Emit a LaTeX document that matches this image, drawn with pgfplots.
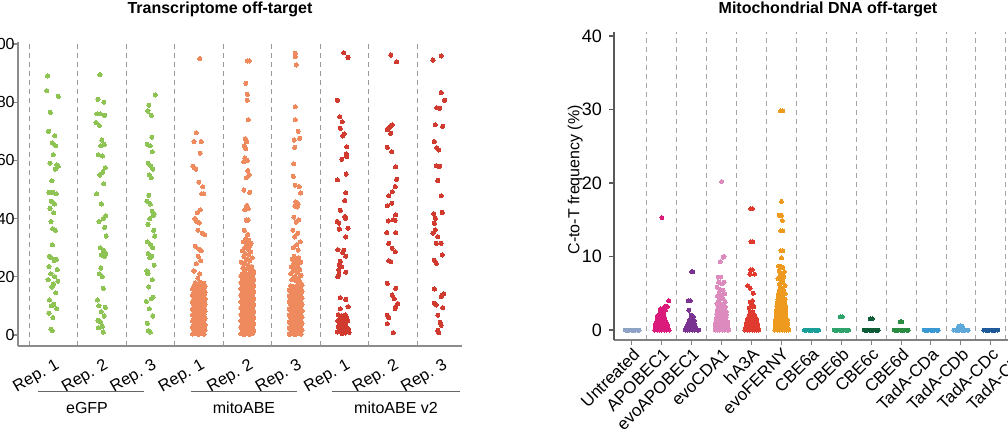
\documentclass[border=0pt]{standalone}
\usepackage{fontspec}
\setmainfont{Liberation Sans}
\usepackage{pgfplots}
\pgfplotsset{compat=1.18}
\definecolor{cgfp}{HTML}{8DC453}
\definecolor{cabe}{HTML}{EE8A5E}
\definecolor{cabeb}{HTML}{D13A2E}
\definecolor{cunt}{HTML}{8FA3C6}
\definecolor{capo}{HTML}{DA1B7B}
\definecolor{cevoapo}{HTML}{7A3391}
\definecolor{ccda}{HTML}{DD8BBF}
\definecolor{cha}{HTML}{E03A2E}
\definecolor{cfer}{HTML}{EE9A1E}
\definecolor{cbea}{HTML}{1A9E98}
\definecolor{cbeb}{HTML}{2FA36C}
\definecolor{cbec}{HTML}{0E5C38}
\definecolor{cbed}{HTML}{2A8C42}
\definecolor{ctda}{HTML}{3A98D2}
\definecolor{ctdb}{HTML}{5EA9DA}
\definecolor{ctdc}{HTML}{1E5A9A}
\definecolor{ctdd}{HTML}{0E3A78}
\begin{document}
\begin{tikzpicture}
\pgfplotsset{
  dots/.style={only marks, mark=*, mark size=1.05pt, color=#1, mark options={solid, draw=#1, fill=#1, line width=0pt}},
  rdots/.style={only marks, mark=*, mark size=1pt, color=#1, mark options={solid, draw=#1, fill=#1, line width=0pt}},
}
% ---------------- left panel ----------------
\begin{axis}[
  at={(9pt,41.5pt)}, anchor=south west, scale only axis,
  width=222pt, height=152pt,
  xmin=0.27, xmax=9.43, ymin=-3.8, ymax=100.7,
  axis x line*=bottom, axis y line*=left,
  axis line style={draw=black!45, line width=0.7pt},
  xtick={1,...,9},
  xticklabels={Rep. 1,Rep. 2,Rep. 3,Rep. 1,Rep. 2,Rep. 3,Rep. 1,Rep. 2,Rep. 3},
  x tick label style={rotate=30, anchor=north east, font=\fontsize{8.2}{9}\selectfont, inner sep=1pt, yshift=-2pt},
  x tick style={draw=none},
  ytick={0,20,40,60,80,100},
  yticklabel style={font=\fontsize{8}{9}\selectfont, anchor=east, inner sep=0pt, xshift=1pt},
  y tick style={draw=black!45, line width=0.6pt},
  tick align=outside, major tick length=2.5pt,
  /pgf/number format/assume math mode=true,
  minor xtick={0.5,1.5,...,8.5}, xminorgrids=true, minor tick length=0pt,
  minor grid style={draw=black!40, dash pattern=on 2.5pt off 2pt, line width=0.4pt},
]
% eGFP Rep. 1
\addplot[dots=cgfp] coordinates {(0.88,89) (0.86,84) (1.10,82) (0.94,76.5) (0.90,70) (1.03,68.5) (0.98,66) (1.05,65) (1.00,62) (0.93,59) (1.07,58.5) (1.10,58) (1.04,57) (0.97,53) (0.91,49) (0.99,49) (1.06,48.5) (0.96,46) (1.02,45) (0.93,43.5) (1.01,42) (0.95,39) (0.99,36.5) (1.04,36) (0.98,31) (0.92,27) (0.96,26.5) (1.06,26) (1.02,25.5) (0.91,23.5) (1.08,22.5) (0.95,21) (1.03,20) (0.89,19) (1.09,18.5) (1.00,17.5) (0.97,16.5) (1.05,14.5) (0.92,12) (1.01,10.5) (0.96,10) (1.07,9) (0.91,7.5) (0.99,6) (0.95,2) (0.98,1.5)};
% eGFP Rep. 2
\addplot[dots=cgfp] coordinates {(1.96,89.5) (1.92,81) (2.04,80) (1.90,76) (1.97,76) (2.06,75.5) (1.88,73) (1.95,72) (2.00,67) (2.05,65.5) (1.98,65) (1.93,62) (2.01,61.5) (2.07,57.5) (2.02,56) (1.96,55) (2.04,52) (1.89,48.5) (1.99,45) (2.08,41) (2.03,40) (1.94,39) (2.06,37) (2.09,34) (1.97,30) (2.04,29) (2.08,28) (1.99,27.5) (2.06,27) (1.95,21) (2.01,20) (1.98,23) (2.03,16) (1.91,12) (1.94,10) (2.07,9.5) (1.99,8) (2.05,6.5) (1.92,5) (1.97,4.5) (2.01,3) (1.93,2.5) (2.03,1)};
% eGFP Rep. 3
\addplot[dots=cgfp] coordinates {(3.10,82.5) (2.97,79) (2.95,77) (3.02,75.5) (3.03,68) (2.94,65.5) (3.00,65) (3.04,63) (2.96,59) (3.01,58) (3.05,57) (2.98,55) (3.02,54) (2.97,48) (2.93,46) (3.00,45) (3.04,42.5) (3.08,41.5) (3.06,41) (2.99,40) (2.95,38) (3.07,36) (2.94,32) (3.01,31) (3.05,30) (2.96,28) (3.03,27) (2.99,26.5) (3.08,24) (2.95,21) (3.04,19) (2.97,16.5) (3.06,13) (3.02,12.5) (2.92,11.5) (2.98,9) (3.05,6.5) (2.94,4) (2.96,1.5) (3.00,1) (2.93,22) (3.09,34)};
% mitoABE Rep. 1
\addplot[dots=cabe] coordinates {(4.02,95) (3.95,69.5) (3.90,66.5) (4.05,66.5) (4.03,62.5) (3.88,58) (3.91,57.5) (3.94,57) (4.00,52.5) (4.08,51) (4.06,48.5) (4.10,48.5) (4.03,43) (3.97,42) (3.92,40) (3.96,39) (4.01,38.5) (3.98,36) (4.07,35) (4.12,34.5) (3.93,30.5) (4.00,29.5) (4.05,29) (3.99,27) (4.04,25.5) (3.95,24.5) (3.90,22) (4.02,21) (3.98,19.5)
(3.87,0.3) (3.93,0.6) (3.99,0.2) (4.05,0.5) (4.11,0.3)
(3.90,1.5) (3.96,1.2) (4.02,1.6) (4.08,1.3) (4.13,1.7)
(3.87,2.6) (3.93,2.3) (3.99,2.7) (4.05,2.4) (4.11,2.8)
(3.90,3.5) (3.96,3.9) (4.02,3.4) (4.08,3.8) (4.13,3.5)
(3.87,4.8) (3.93,4.5) (3.99,4.9) (4.05,4.6) (4.11,5.0)
(3.90,5.7) (3.96,6.1) (4.02,5.6) (4.08,6.0) (4.13,5.8)
(3.87,7.0) (3.93,6.7) (3.99,7.2) (4.05,6.8) (4.11,7.1)
(3.90,8.1) (3.96,7.8) (4.02,8.3) (4.08,7.9) (4.13,8.2)
(3.87,9.0) (3.93,9.4) (3.99,8.9) (4.05,9.3) (4.11,9.0)
(3.90,10.3) (3.96,10.0) (4.02,10.4) (4.08,10.1) (4.13,10.5)
(3.87,11.4) (3.93,11.1) (3.99,11.5) (4.05,11.2) (4.11,11.6)
(3.90,12.3) (3.96,12.7) (4.02,12.2) (4.08,12.6) (4.13,12.4)
(3.87,13.6) (3.93,13.3) (3.99,13.7) (4.05,13.4) (4.11,13.8)
(3.90,14.5) (3.96,14.9) (4.02,14.4) (4.08,14.8) (4.13,14.6)
(3.87,15.8) (3.93,15.5) (3.99,15.9) (4.05,15.6) (4.11,16.0)
(3.90,16.7) (3.96,17.1) (4.02,16.6) (4.08,17.0) (4.13,16.8)
(3.93,17.9) (4.02,18.2) (4.10,17.8)};
% mitoABE Rep. 2
\addplot[dots=cabe] coordinates {(5.00,94.2) (5.04,94.2) (4.97,86.5) (5.00,82.7) (5.00,80.7) (5.02,74) (4.96,67.5) (4.99,66.5) (4.94,65) (4.97,64) (4.95,60.8) (5.00,60) (4.93,59.5) (5.01,56.5) (5.04,55) (4.98,54) (4.93,49.8) (5.05,49) (4.99,44.5) (5.02,43.5) (4.95,43) (4.98,39.5) (5.02,39.5) (4.94,36) (5.01,34.5)
(4.97,33) (5.03,32.5) (4.92,32) (5.08,31.5) (4.99,31) (5.05,30.5) (4.95,30) (5.01,29.5) (4.90,29) (5.07,28.5) (4.96,28) (5.03,27.5) (4.93,27) (5.10,26.5) (4.99,26) (5.05,25.5) (4.88,25) (4.95,24.5) (5.02,24) (5.09,23.5) (4.91,23) (4.98,22.8) (5.06,22.4) (5.12,22)
(4.87,0.4) (4.93,0.1) (4.99,0.5) (5.05,0.2) (5.11,0.6)
(4.90,1.3) (4.96,1.7) (5.02,1.2) (5.08,1.6) (5.13,1.4)
(4.87,2.6) (4.93,2.3) (4.99,2.7) (5.05,2.4) (5.11,2.8)
(4.90,3.5) (4.96,3.9) (5.02,3.4) (5.08,3.8) (5.13,3.6)
(4.87,4.8) (4.93,4.5) (4.99,4.9) (5.05,4.6) (5.11,5.0)
(4.90,5.7) (4.96,6.1) (5.02,5.6) (5.08,6.0) (5.13,5.8)
(4.87,7.0) (4.93,6.7) (4.99,7.1) (5.05,6.8) (5.11,7.2)
(4.90,7.9) (4.96,8.3) (5.02,7.8) (5.08,8.2) (5.13,8.0)
(4.87,9.2) (4.93,8.9) (4.99,9.3) (5.05,9.0) (5.11,9.4)
(4.90,10.1) (4.96,10.5) (5.02,10.0) (5.08,10.4) (5.13,10.2)
(4.87,11.4) (4.93,11.1) (4.99,11.5) (5.05,11.2) (5.11,11.6)
(4.90,12.3) (4.96,12.7) (5.02,12.2) (5.08,12.6) (5.13,12.4)
(4.87,13.6) (4.93,13.3) (4.99,13.7) (5.05,13.4) (5.11,13.8)
(4.90,14.5) (4.96,14.9) (5.02,14.4) (5.08,14.8) (5.13,14.6)
(4.87,15.8) (4.93,15.5) (4.99,15.9) (5.05,15.6) (5.11,16.0)
(4.90,16.7) (4.96,17.1) (5.02,16.6) (5.08,17.0) (5.13,16.8)
(4.87,18.0) (4.93,17.7) (4.99,18.1) (5.05,17.8) (5.11,18.2)
(4.90,18.9) (4.96,19.3) (5.02,18.8) (5.08,19.2) (5.13,19.0)
(4.87,20.2) (4.93,19.9) (4.99,20.3) (5.05,20.0) (5.11,20.4)
(4.90,21.1) (4.96,21.5) (5.02,21.0) (5.08,21.4) (5.13,21.2)};
% mitoABE Rep. 3
\addplot[dots=cabe] coordinates {(5.99,96.8) (5.99,95.6) (6.01,92.8) (5.99,78.5) (5.99,74) (6.05,70) (6.08,67.6) (5.97,67) (5.98,64.5) (5.96,58.8) (5.95,54.5) (5.99,51.5) (6.07,51) (6.10,48.8) (6.00,45.7) (6.05,45) (5.98,44.3) (6.03,44) (5.96,40.5) (6.06,39.5) (6.01,38.8) (5.94,36) (6.04,35) (5.98,33.7) (6.09,32) (6.02,31) (5.95,30) (6.05,29.2)
(5.97,27) (6.06,26.5) (5.93,26) (6.02,25.5) (6.10,25) (5.96,24.5) (6.04,24) (5.91,23.5) (6.00,23) (6.08,22.5) (5.95,22) (6.03,21.5) (5.90,21) (6.11,20.5) (5.98,20) (6.05,19.5) (5.92,19) (6.01,18.6) (6.09,18.2)
(5.87,0.2) (5.93,0.5) (5.99,0.1) (6.05,0.6) (6.11,0.3)
(5.90,1.6) (5.96,1.2) (6.02,1.5) (6.08,1.1) (6.13,1.7)
(5.87,2.4) (5.93,2.8) (5.99,2.5) (6.05,2.9) (6.11,2.3)
(5.90,3.7) (5.96,3.4) (6.02,3.8) (6.08,3.5) (6.13,3.9)
(5.87,4.6) (5.93,5.0) (5.99,4.6) (6.05,4.9) (6.11,4.5)
(5.90,5.9) (5.96,5.6) (6.02,6.0) (6.08,5.7) (6.13,6.1)
(5.87,6.8) (5.93,7.2) (5.99,6.8) (6.05,7.1) (6.11,6.7)
(5.90,8.1) (5.96,7.8) (6.02,8.2) (6.08,7.9) (6.13,8.3)
(5.87,9.0) (5.93,9.4) (5.99,9.0) (6.05,9.3) (6.11,8.9)
(5.90,10.3) (5.96,10.0) (6.02,10.4) (6.08,10.1) (6.13,10.5)
(5.87,11.2) (5.93,11.6) (5.99,11.2) (6.05,11.5) (6.11,11.1)
(5.90,12.5) (5.96,12.2) (6.02,12.6) (6.08,12.3) (6.13,12.7)
(5.87,13.4) (5.93,13.8) (5.99,13.4) (6.05,13.7) (6.11,13.3)
(5.90,14.7) (5.96,14.4) (6.02,14.8) (6.08,14.5) (6.13,14.9)
(5.87,15.6) (5.93,16.0) (5.99,15.6) (6.05,15.9) (6.11,15.5)
(5.90,16.9) (5.96,16.6) (6.02,17.0) (6.08,16.7) (6.13,17.1)};
% mitoABE v2 Rep. 1
\addplot[dots=cabeb] coordinates {(6.99,97) (7.08,95.4) (6.86,80.7) (6.91,75) (6.96,73.3) (6.92,71) (7.00,69.1) (6.97,68.4) (7.05,64.7) (7.04,62.2) (7.05,61.3) (6.95,60.4) (7.04,55.3) (6.86,53.3) (7.03,48.9) (7.01,46.2) (6.92,42.8) (7.01,40.7) (7.03,40.1) (6.86,39) (6.89,38.4) (7.08,36.7) (6.90,36.4) (7.03,33.7) (6.87,29.3) (6.99,29.1) (6.97,28.4) (7.03,27.1) (6.92,25.3) (6.90,24.2) (6.95,23.4) (6.89,22.5) (7.03,21.6) (6.89,20.8) (6.87,20) (6.92,12.8) (7.03,12.2) (7.08,9.7) (6.92,9)
(6.88,7.0) (6.95,6.6) (7.02,6.9) (6.91,5.8) (6.98,5.5) (7.05,5.9) (6.87,4.9) (6.94,4.6) (7.00,4.2) (7.07,4.8) (6.90,3.7) (6.97,3.3) (7.03,3.6) (6.88,2.6) (6.95,2.2) (7.01,2.5) (7.08,2.1) (6.92,1.4) (6.99,1.1) (7.05,1.5) (6.86,1.0) (7.02,0.7) (7.10,0.9) (6.96,0.5)};
% mitoABE v2 Rep. 2
\addplot[dots=cabeb] coordinates {(7.96,96.2) (8.08,93.9) (7.89,70.5) (7.94,71.5) (7.99,72.2) (7.96,69.3) (7.91,70.8) (7.89,64.5) (7.98,63) (8.06,57.8) (8.08,53.5) (8.05,51) (7.99,49.2) (7.92,47.8) (7.98,45.3) (7.89,44.4) (8.06,41.3) (7.91,39.2) (8.05,39.4) (8.01,39.6) (7.88,35.2) (8.06,35.2) (7.92,31.5) (7.99,29.8) (8.05,28.6) (7.96,25.2) (7.92,25.5) (7.89,17.7) (8.06,16) (7.99,13.7) (8.03,12.5) (8.10,10.8) (8.06,9.7) (8.05,9.1) (7.89,6.8) (7.92,6) (7.89,3.8) (8.01,0.8)};
% mitoABE v2 Rep. 3
\addplot[dots=cabeb] coordinates {(9.00,95.9) (8.83,94.5) (9.00,83.3) (9.07,80.7) (8.91,78.1) (8.97,77.9) (8.88,72.3) (9.03,71.7) (8.86,66.5) (8.91,64.3) (8.95,63.6) (8.90,58.2) (8.95,57.8) (8.97,58.0) (8.93,53.1) (9.00,47.8) (9.02,42.1) (8.85,41.6) (8.88,40.1) (8.86,38.4) (8.88,36.1) (8.83,35) (8.93,33.8) (8.90,31.5) (9.00,31.5) (9.02,27.5) (8.86,25.7) (8.90,24.6) (8.86,15.8) (9.05,14.1) (9.02,13.7) (9.00,13.2) (8.86,10.9) (8.90,10.3) (9.03,9.4) (8.93,6.8) (8.98,4.3) (9.00,3.3) (8.93,1.6) (8.95,0.8)};
\end{axis}
% group lines and labels
\draw[black!60, line width=0.5pt] (19pt,18.5pt) -- (72pt,18.5pt);
\draw[black!60, line width=0.5pt] (95.5pt,18.5pt) -- (148.5pt,18.5pt);
\draw[black!60, line width=0.5pt] (166pt,18.5pt) -- (230pt,18.5pt);
\node[font=\fontsize{8}{9}\selectfont] at (43.5pt,10.5pt) {eGFP};
\node[font=\fontsize{8}{9}\selectfont] at (122pt,10.5pt) {mitoABE};
\node[font=\fontsize{8}{9}\selectfont] at (198pt,10.5pt) {mitoABE v2};
\node[font=\fontsize{8}{9}\selectfont\bfseries] at (110pt,210pt) {Transcriptome off-target};
\node[font=\fontsize{8}{9}\selectfont\bfseries] at (414pt,210pt) {Mitochondrial DNA off-target};
% ---------------- right panel ----------------
\begin{axis}[
  at={(307pt,44.5pt)}, anchor=south west, scale only axis,
  width=210.8pt, height=154pt,
  xmin=0.4, xmax=14.5, ymin=-1.36, ymax=40.54,
  axis x line*=bottom, axis y line*=left,
  x axis line style={draw=black!50, line width=0.7pt},
  y axis line style={draw=black!65, line width=0.7pt},
  xtick={1,...,14},
  xticklabels={Untreated,APOBEC1,evoAPOBEC1,evoCDA1,hA3A,evoFERNY,CBE6a,CBE6b,CBE6c,CBE6d,TadA-CDa,TadA-CDb,TadA-CDc,TadA-CDd},
  x tick label style={rotate=45, anchor=north east, font=\fontsize{8.5}{9}\selectfont, inner sep=0.5pt},
  x tick style={draw=black!50, line width=0.5pt},
  ytick={0,10,20,30,40},
  y tick label style={font=\fontsize{9}{10}\selectfont},
  y tick style={draw=black!65, line width=0.6pt},
  tick align=outside, major tick length=2.5pt,
  /pgf/number format/assume math mode=true,
  ylabel={C-to-T frequency (\%)},
  ylabel style={font=\fontsize{8}{9}\selectfont, at={(axis description cs:-0.092,0.52)}, anchor=center},
  minor xtick={1.5,2.5,...,14.5}, xminorgrids=true, minor tick length=0pt,
  minor grid style={draw=black!35, dash pattern=on 2.5pt off 2pt, line width=0.4pt},
]
% Untreated
\addplot[rdots=cunt] coordinates {(0.77,0) (0.81,0) (0.85,0) (0.89,0) (0.93,0) (0.97,0) (1.01,0) (1.05,0) (1.09,0) (1.13,0) (1.17,0) (1.21,0) (1.24,0)};
% APOBEC1
\addplot[rdots=capo] coordinates {(2.00,15.3) (2.23,4.0) (2.10,3.2) (2.18,3.2) (1.96,2.9) (2.12,2.7)
(1.76,0) (1.84,0) (1.92,0) (2.00,0) (2.08,0) (2.16,0) (2.24,0)
(1.80,0.35) (1.88,0.35) (1.96,0.35) (2.04,0.35) (2.12,0.35) (2.20,0.35)
(1.78,0.7) (1.86,0.7) (1.94,0.7) (2.02,0.7) (2.10,0.7) (2.18,0.7)
(1.82,1.05) (1.90,1.05) (1.98,1.05) (2.06,1.05) (2.14,1.05)
(1.86,1.4) (1.94,1.4) (2.02,1.4) (2.10,1.4)
(1.84,1.75) (1.93,1.75) (2.00,1.75) (2.08,1.75)
(1.90,2.1) (1.98,2.1) (2.06,2.1)
(1.94,2.5) (2.02,2.5)};
% evoAPOBEC1
\addplot[rdots=cevoapo] coordinates {(3.00,7.9) (3.03,7.9) (2.88,4.0) (2.95,4.0) (2.90,2.7) (2.98,2.0) (3.05,1.8)
(2.78,0) (2.86,0) (2.94,0) (3.02,0) (3.10,0) (3.18,0) (3.23,0)
(2.82,0.35) (2.90,0.35) (2.98,0.35) (3.06,0.35) (3.14,0.35)
(2.86,0.7) (2.94,0.7) (3.02,0.7) (3.10,0.7)
(2.90,1.05) (2.98,1.05) (3.06,1.05)
(2.93,1.4) (3.01,1.4) (3.09,1.3)};
% evoCDA1
\addplot[rdots=ccda] coordinates {(4.00,20.2) (4.08,10.0) (4.05,9.9) (3.95,9.3) (3.88,7.2) (3.97,7.2) (3.90,6.5) (4.02,6.3) (4.08,6.5) (3.85,5.8) (3.95,5.5) (4.05,5.4) (3.92,5.0) (4.10,4.9) (3.86,4.6) (4.00,4.6) (3.96,4.3) (4.06,4.2) (3.90,4.0) (4.12,3.8) (3.84,3.6) (3.98,3.5) (4.04,3.3)
(3.78,0) (3.86,0) (3.94,0) (4.02,0) (4.10,0) (4.18,0) (4.24,0)
(3.80,0.35) (3.88,0.35) (3.96,0.35) (4.04,0.35) (4.12,0.35) (4.20,0.35)
(3.79,0.7) (3.87,0.7) (3.95,0.7) (4.03,0.7) (4.11,0.7) (4.19,0.7)
(3.81,1.05) (3.89,1.05) (3.97,1.05) (4.05,1.05) (4.13,1.05) (4.20,1.05)
(3.82,1.4) (3.90,1.4) (3.98,1.4) (4.06,1.4) (4.14,1.4)
(3.83,1.75) (3.91,1.75) (3.99,1.75) (4.07,1.75) (4.15,1.75)
(3.84,2.1) (3.92,2.1) (4.00,2.1) (4.08,2.1) (4.16,2.1)
(3.85,2.45) (3.93,2.45) (4.01,2.45) (4.09,2.45) (4.15,2.45)
(3.86,2.8) (3.94,2.8) (4.02,2.8) (4.10,2.8)
(3.88,3.15) (3.96,3.15) (4.04,3.1) (4.12,3.15)};
% hA3A
\addplot[rdots=cha] coordinates {(4.97,16.5) (5.03,16.5) (4.98,12.0) (5.04,12.0) (4.97,8.2) (5.03,8.2) (4.94,7.6) (5.10,7.6) (4.87,6.0) (4.95,5.7) (5.06,5.0) (5.03,4.0) (4.95,3.8) (5.00,3.5) (5.08,3.2) (4.92,3.0)
(4.78,0) (4.86,0) (4.94,0) (5.02,0) (5.10,0) (5.18,0) (5.24,0)
(4.80,0.35) (4.88,0.35) (4.96,0.35) (5.04,0.35) (5.12,0.35) (5.20,0.35)
(4.82,0.7) (4.90,0.7) (4.98,0.7) (5.06,0.7) (5.14,0.7) (5.21,0.7)
(4.84,1.05) (4.92,1.05) (5.00,1.05) (5.08,1.05) (5.16,1.05)
(4.86,1.4) (4.94,1.4) (5.02,1.4) (5.10,1.4) (5.17,1.4)
(4.90,1.75) (4.98,1.75) (5.06,1.75) (5.13,1.75)
(4.93,2.1) (5.01,2.1) (5.09,2.1)
(4.96,2.45) (5.04,2.45)};
% evoFERNY
\addplot[rdots=cfer] coordinates {(5.97,29.8) (6.04,29.8) (6.00,17.5) (5.93,15.6) (6.00,15.6) (6.03,14.9) (5.98,13.5) (6.04,13.5) (5.98,10.8) (6.05,10.8) (6.00,9.8) (5.90,8.7) (5.95,8.7) (6.05,8.5) (5.93,8.0) (6.10,7.9) (6.03,7.7) (5.95,7.3) (6.08,7.2) (5.88,7.0) (5.98,6.8) (6.05,6.5) (5.92,6.2) (6.12,6.0) (5.97,5.8) (6.05,5.6)
(5.78,0) (5.86,0) (5.94,0) (6.02,0) (6.10,0) (6.18,0) (6.24,0)
(5.80,0.35) (5.88,0.35) (5.96,0.35) (6.04,0.35) (6.12,0.35) (6.20,0.35)
(5.79,0.7) (5.87,0.7) (5.95,0.7) (6.03,0.7) (6.11,0.7) (6.19,0.7)
(5.80,1.05) (5.88,1.05) (5.96,1.05) (6.04,1.05) (6.12,1.05) (6.20,1.05)
(5.81,1.4) (5.89,1.4) (5.97,1.4) (6.05,1.4) (6.13,1.4) (6.19,1.4)
(5.82,1.75) (5.90,1.75) (5.98,1.75) (6.06,1.75) (6.14,1.75)
(5.82,2.1) (5.90,2.1) (5.98,2.1) (6.06,2.1) (6.14,2.1)
(5.83,2.45) (5.91,2.45) (5.99,2.45) (6.07,2.45) (6.15,2.45)
(5.84,2.8) (5.92,2.8) (6.00,2.8) (6.08,2.8) (6.15,2.8)
(5.85,3.15) (5.93,3.15) (6.01,3.15) (6.09,3.15) (6.14,3.15)
(5.86,3.5) (5.94,3.5) (6.02,3.5) (6.10,3.5)
(5.87,3.85) (5.95,3.85) (6.03,3.85) (6.11,3.85)
(5.88,4.2) (5.96,4.2) (6.04,4.2) (6.12,4.2)
(5.89,4.55) (5.97,4.55) (6.05,4.55)
(5.90,4.9) (5.98,4.9) (6.06,4.9) (6.12,4.9)
(5.92,5.25) (6.00,5.25) (6.08,5.25)};
% CBE6a
\addplot[rdots=cbea] coordinates {(6.77,0) (6.81,0) (6.85,0) (6.89,0) (6.93,0) (6.97,0) (7.01,0) (7.05,0) (7.09,0) (7.13,0) (7.17,0) (7.21,0) (7.24,0)};
% CBE6b
\addplot[rdots=cbeb] coordinates {(7.97,1.8) (8.04,1.8) (7.77,0) (7.81,0) (7.85,0) (7.89,0) (7.93,0) (7.97,0) (8.01,0) (8.05,0) (8.09,0) (8.13,0) (8.17,0) (8.21,0) (8.24,0)};
% CBE6c
\addplot[rdots=cbec] coordinates {(8.97,1.5) (9.03,1.5) (8.77,0) (8.81,0) (8.85,0) (8.89,0) (8.93,0) (8.97,0) (9.01,0) (9.05,0) (9.09,0) (9.13,0) (9.17,0) (9.21,0) (9.24,0)};
% CBE6d
\addplot[rdots=cbed] coordinates {(9.97,1.1) (10.03,1.1) (9.77,0) (9.81,0) (9.85,0) (9.89,0) (9.93,0) (9.97,0) (10.01,0) (10.05,0) (10.09,0) (10.13,0) (10.17,0) (10.21,0) (10.24,0)};
% TadA-CDa
\addplot[rdots=ctda] coordinates {(10.77,0) (10.81,0) (10.85,0) (10.89,0) (10.93,0) (10.97,0) (11.01,0) (11.05,0) (11.09,0) (11.13,0) (11.17,0) (11.21,0) (11.24,0)};
% TadA-CDb
\addplot[rdots=ctdb] coordinates {(11.92,0.5) (11.98,0.6) (12.05,0.5) (12.02,0.3) (11.95,0.3) (11.77,0) (11.81,0) (11.85,0) (11.89,0) (11.93,0) (11.97,0) (12.01,0) (12.05,0) (12.09,0) (12.13,0) (12.17,0) (12.21,0) (12.24,0)};
% TadA-CDc
\addplot[rdots=ctdc] coordinates {(12.77,0) (12.81,0) (12.85,0) (12.89,0) (12.93,0) (12.97,0) (13.01,0) (13.05,0) (13.09,0) (13.13,0) (13.17,0) (13.21,0) (13.24,0)};
% TadA-CDd
\addplot[rdots=ctdd] coordinates {(13.77,0) (13.81,0) (13.85,0) (13.89,0) (13.93,0) (13.97,0) (14.01,0) (14.05,0) (14.09,0) (14.13,0) (14.17,0) (14.21,0) (14.24,0)};
\end{axis}
\pgfresetboundingbox
\path[use as bounding box] (0,0) rectangle (504pt,214.5pt);
\end{tikzpicture}
\end{document}
